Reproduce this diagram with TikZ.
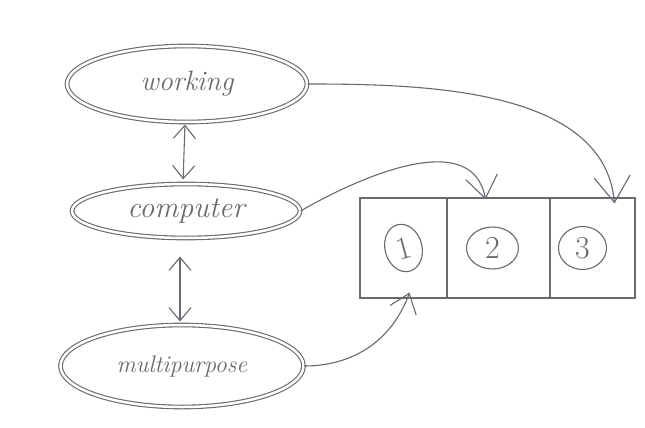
\documentclass[tikz,border=0pt]{standalone}
\usetikzlibrary{shapes.geometric,arrows.meta}
\definecolor{pencil}{RGB}{105,105,112}
\begin{document}
\begin{tikzpicture}[x=1pt,y=-1pt,
  pen/.style={draw=pencil, line width=1.1pt},
  oval/.style={pen, ellipse, double=white, double distance=2.5pt, inner sep=0pt, text=pencil},
  cell/.style={pen, rectangle, minimum height=100pt, inner sep=0pt},
  num/.style={pen, ellipse, inner sep=0pt, text=pencil, font=\fontsize{32}{36}\selectfont},
  arr/.style={pen, -{Straight Barb[length=26pt,width=36pt]}},
  dbl/.style={pen, {Straight Barb[length=13pt,width=22pt]}-{Straight Barb[length=13pt,width=22pt]}}
]
\useasboundingbox (0,0) rectangle (645,428);
\fill[white] (0,0) rectangle (645,428);

% ovals
\node[oval, minimum width=240pt, minimum height=76pt, font=\fontsize{28}{32}\selectfont\itshape] (w) at (187,84) {working};
\node[oval, minimum width=228pt, minimum height=54pt, font=\fontsize{30}{34}\selectfont\itshape] (c) at (186,211) {computer};
\node[oval, minimum width=243pt, minimum height=82pt, font=\fontsize{24}{28}\selectfont\itshape] (m) at (182,366) {multipurpose};

% double arrows between ovals
\draw[dbl, shorten <=2pt, shorten >=4pt] ([xshift=-2pt]w.south) -- ([xshift=-3pt]c.north);
\draw[dbl, shorten <=18pt, shorten >=3pt] ([xshift=-6pt]c.south) -- ([xshift=-2pt]m.north);

% boxes
\node[cell, minimum width=87pt] (b1) at (403.5,248) {};
\node[cell, minimum width=103pt] (b2) at (498.5,248) {};
\node[cell, minimum width=85pt] (b3) at (592.5,248) {};

% numbered ellipses
\node[num, minimum width=37pt, minimum height=48pt, rotate=15] (n1) at (b1.center) {1};
\node[num, minimum width=52pt, minimum height=42pt] (n2) at ([xshift=-6pt]b2.center) {2};
\node[num, minimum width=48pt, minimum height=43pt] (n3) at ([xshift=-10pt]b3.center) {3};

% connectors
\draw[arr] (w.east) to[out=0, in=95, looseness=0.9] ([xshift=22pt,yshift=-6pt]b3.north);
\draw[arr, -{Straight Barb[length=22pt,width=32pt]}] (c.east) to[out=30, in=100, looseness=1] ([xshift=-13pt,yshift=-2pt]b2.north);
\draw[arr, -{Straight Barb[length=18pt,width=28pt]}] (m.east) to[out=0, in=-110, looseness=1] ([xshift=6pt,yshift=6pt]b1.south);
\end{tikzpicture}
\end{document}
